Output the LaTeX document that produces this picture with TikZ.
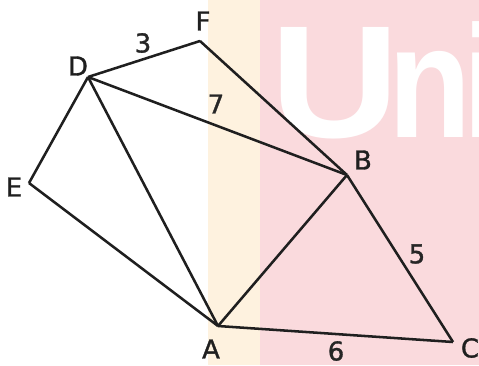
\documentclass[tikz,border=0pt]{standalone}
\usepackage{fontspec}
\setmainfont{DejaVu Sans}
\newfontfamily\lblfont[FakeBold=1.2]{DejaVu Sans}
\newfontfamily\markfont{Liberation Sans}
\definecolor{stripyellow}{HTML}{FEF2DF}
\definecolor{stripred}{HTML}{FADADD}
\tikzset{
  edge/.style={line width=1.9pt, draw=black!88, line join=round},
  vlabel/.style={font=\lblfont\fontsize{19.5}{22}\selectfont, text=black!88, inner sep=0pt},
  wlabel/.style={font=\lblfont\fontsize{19.5}{22}\selectfont, text=black!85, inner sep=0pt},
  wmark/.style={anchor=base west, inner sep=0pt, text=white,
    font=\markfont\bfseries\fontsize{120}{124}\selectfont}
}
\begin{document}
\begin{tikzpicture}[x=0.75pt,y=-0.75pt]
  \useasboundingbox (0,0) rectangle (479,365);
  \fill[white] (0,0) rectangle (479,365);
  \fill[stripyellow] (208,0) rectangle (260,365);
  \fill[stripred] (260,0) rectangle (479,365);
  \begin{scope}
    \clip (0,0) rectangle (479,365);
    \node[wmark, xscale=1.12] (wmU) at (270,137) {U};
    \node[wmark, xscale=0.85] (wmN) at (388,137) {n};
    \node[wmark] (wmI) at (461,137) {i};
  \end{scope}
  \coordinate (D) at (88,77);
  \coordinate (F) at (200,41);
  \coordinate (E) at (29,183);
  \coordinate (B) at (347,175);
  \coordinate (A) at (218,326);
  \coordinate (C) at (453,342);
  \draw[edge] (D) -- (F);
  \draw[edge] (F) -- (B);
  \draw[edge] (D) -- (B);
  \draw[edge] (D) -- (E);
  \draw[edge] (D) -- (A);
  \draw[edge] (E) -- (A);
  \draw[edge] (A) -- (B);
  \draw[edge] (B) -- (C);
  \draw[edge] (A) -- (C);
  \node[vlabel] (lD) at (78,66) {D};
  \node[vlabel] (lF) at (203,21) {F};
  \node[vlabel] (lE) at (14,187) {E};
  \node[vlabel] (lB) at (363,160) {B};
  \node[vlabel] (lA) at (211,349) {A};
  \node[vlabel] (lC) at (470,348) {C};
  \node[wlabel] (w3) at (143,43) {3};
  \node[wlabel] (w7) at (216,104) {7};
  \node[wlabel] (w5) at (417,254) {5};
  \node[wlabel] (w6) at (336,351) {6};
\end{tikzpicture}
\end{document}
